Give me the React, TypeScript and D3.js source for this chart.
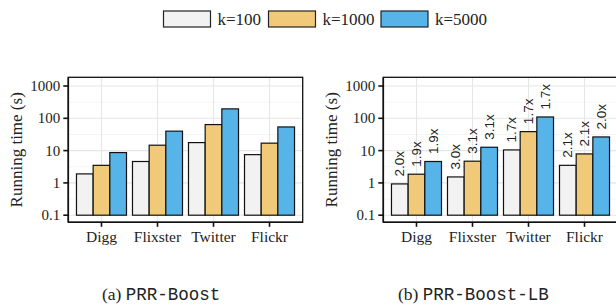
import React from "react";
import * as d3 from "d3";

const categories = ["Digg", "Flixster", "Twitter", "Flickr"];
const seriesNames = ["k=100", "k=1000", "k=5000"];
const seriesColors = ["#f2f2f2", "#f0ca78", "#56b4e9"];

// PRR-Boost running time (s)
const boostK100 = [1.9, 4.6, 17.7, 7.5];
const boostK1000 = [3.5, 14.7, 64, 17];
const boostK5000 = [8.7, 40, 196, 54];

// PRR-Boost-LB running time (s) and speedup labels
const lbK100 = [0.93, 1.53, 10.5, 3.5];
const lbK1000 = [1.86, 4.7, 38.7, 7.9];
const lbK5000 = [4.6, 12.7, 110, 26.5];
const lbSpeedK100 = ["2.0x", "3.0x", "1.7x", "2.1x"];
const lbSpeedK1000 = ["1.9x", "3.1x", "1.7x", "2.1x"];
const lbSpeedK5000 = ["1.9x", "3.1x", "1.7x", "2.0x"];

const yTicks = [0.1, 1, 10, 100, 1000];
const yMinor = [0.316, 3.16, 31.6, 316];

const serif = "'Liberation Serif', 'Times New Roman', serif";
const sans = "'Liberation Sans', Arial, sans-serif";
const mono = "'Liberation Mono', 'DejaVu Sans Mono', monospace";

const panelW = 234.4;
const top = 77.3;
const bottom = 222.3;

function Panel({ x0, series, labels }) {
  const left = x0;
  const right = x0 + panelW;
  const x = d3
    .scaleBand()
    .domain(categories)
    .range([left, right])
    .paddingInner(0.107)
    .paddingOuter(0.146);
  const xs = d3.scaleBand().domain(seriesNames).range([0, x.bandwidth()]);
  const y = d3
    .scaleLog()
    .domain([Math.pow(10, -1.22), Math.pow(10, 3.27)])
    .range([bottom, top]);

  return (
    <g>
      <rect x={left} y={top} width={panelW} height={bottom - top} fill="#fff" />
      {yMinor.map(t => (
        <line key={"mn" + t} x1={left} x2={right} y1={y(t)} y2={y(t)} stroke="#f3f3f3" strokeWidth={0.8} />
      ))}
      {yTicks.map(t => (
        <line key={"mj" + t} x1={left} x2={right} y1={y(t)} y2={y(t)} stroke="#e6e6e6" strokeWidth={1.1} />
      ))}
      {categories.map(c => (
        <line
          key={"vg" + c}
          x1={x(c) + x.bandwidth() / 2}
          x2={x(c) + x.bandwidth() / 2}
          y1={top}
          y2={bottom}
          stroke="#e6e6e6"
          strokeWidth={1.1}
        />
      ))}
      {series.map((vals, si) =>
        categories.map((c, ci) => (
          <rect
            key={"b" + si + c}
            x={x(c) + xs(seriesNames[si])}
            y={y(vals[ci])}
            width={xs.bandwidth()}
            height={y(0.1) - y(vals[ci])}
            fill={seriesColors[si]}
            stroke="#111"
            strokeWidth={1.2}
          />
        ))
      )}
      {labels &&
        labels.map((labs, si) =>
          categories.map((c, ci) => {
            const cx = x(c) + xs(seriesNames[si]) + xs.bandwidth() / 2;
            const cy = y(series[si][ci]) - 7.5;
            return (
              <text
                key={"l" + si + c}
                transform={`translate(${cx},${cy}) rotate(-90)`}
                dominantBaseline="central"
                fontFamily={sans}
                fontSize={13.5}
                fill="#222"
              >
                {labs[ci]}
              </text>
            );
          })
        )}
      <rect x={left} y={top} width={panelW} height={bottom - top} fill="none" stroke="#111" strokeWidth={1.3} />
      <line x1={left} x2={left} y1={top} y2={bottom} stroke="#111" strokeWidth={1.6} />
      <line x1={left} x2={right} y1={bottom} y2={bottom} stroke="#111" strokeWidth={1.6} />
      {yTicks.map(t => (
        <g key={"yt" + t}>
          <line x1={left - 5} x2={left} y1={y(t)} y2={y(t)} stroke="#111" strokeWidth={1.6} />
          <text
            x={left - 8}
            y={y(t)}
            textAnchor="end"
            dominantBaseline="central"
            fontFamily={serif}
            fontSize={15}
            fill="#222"
          >
            {t}
          </text>
        </g>
      ))}
      {categories.map(c => (
        <g key={"xt" + c}>
          <line
            x1={x(c) + x.bandwidth() / 2}
            x2={x(c) + x.bandwidth() / 2}
            y1={bottom}
            y2={bottom + 4.5}
            stroke="#111"
            strokeWidth={1.6}
          />
          <text
            x={x(c) + x.bandwidth() / 2}
            y={bottom + 19.5}
            textAnchor="middle"
            fontFamily={serif}
            fontSize={15.5}
            fill="#222"
          >
            {c}
          </text>
        </g>
      ))}
      <text
        transform={`translate(${x0 - 46.8},${(top + bottom) / 2}) rotate(-90)`}
        textAnchor="middle"
        fontFamily={serif}
        fontSize={17}
        fill="#222"
      >
        Running time (s)
      </text>
    </g>
  );
}

function Legend() {
  const boxes = [163.5, 268.5, 381];
  return (
    <g>
      {seriesNames.map((s, i) => (
        <g key={s}>
          <rect x={boxes[i]} y={11} width={47} height={16} fill={seriesColors[i]} stroke="#222" strokeWidth={1.2} />
          <text x={boxes[i] + 54} y={19} dominantBaseline="central" fontFamily={serif} fontSize={17} fill="#222">
            {s}
          </text>
        </g>
      ))}
    </g>
  );
}

export default function App() {
  return (
    <svg
      width={616}
      height={305}
      style={{ position: "absolute", left: 0, top: 0, background: "#fff" }}
    >
      <Legend />
      <Panel x0={68.3} series={[boostK100, boostK1000, boostK5000]} />
      <Panel
        x0={383.3}
        series={[lbK100, lbK1000, lbK5000]}
        labels={[lbSpeedK100, lbSpeedK1000, lbSpeedK5000]}
      />
      <text x={102} y={299.5} fontSize={17.5} fill="#222">
        <tspan fontFamily={serif}>(a) </tspan>
        <tspan fontFamily={mono}>PRR-Boost</tspan>
      </text>
      <text x={398} y={299.5} fontSize={17.5} fill="#222">
        <tspan fontFamily={serif}>(b) </tspan>
        <tspan fontFamily={mono}>PRR-Boost-LB</tspan>
      </text>
    </svg>
  );
}
